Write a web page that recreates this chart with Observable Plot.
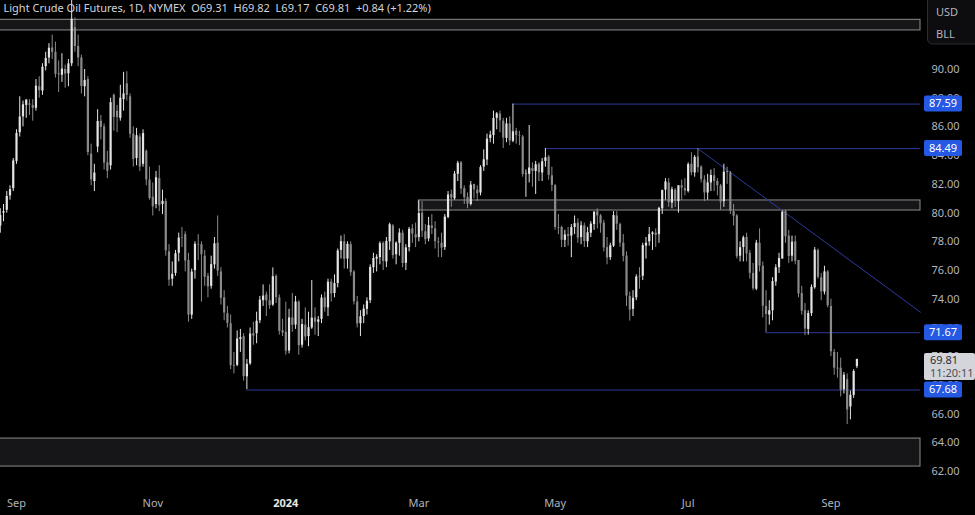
<!DOCTYPE html>
<html><head><meta charset="utf-8">
<script src="https://cdn.jsdelivr.net/npm/d3@7"></script>
<script src="https://cdn.jsdelivr.net/npm/@observablehq/plot@0.6"></script>
<style>
html,body{margin:0;padding:0;background:#000;}
#chart{width:975px;height:515px;overflow:hidden;position:relative;}
</style></head><body><div id="chart"></div>
<script>
// ---------- DATA ----------
const dates = [
"2023-08-24","2023-08-25","2023-08-28","2023-08-29","2023-08-30","2023-08-31",
"2023-09-01","2023-09-05","2023-09-06","2023-09-07","2023-09-08","2023-09-11","2023-09-12","2023-09-13","2023-09-14","2023-09-15","2023-09-18","2023-09-19","2023-09-20","2023-09-21","2023-09-22","2023-09-25","2023-09-26","2023-09-27","2023-09-28","2023-09-29",
"2023-10-02","2023-10-03","2023-10-04","2023-10-05","2023-10-06","2023-10-09","2023-10-10","2023-10-11","2023-10-12","2023-10-13","2023-10-16","2023-10-17","2023-10-18","2023-10-19","2023-10-20","2023-10-23","2023-10-24","2023-10-25","2023-10-26","2023-10-27","2023-10-30","2023-10-31",
"2023-11-01","2023-11-02","2023-11-03","2023-11-06","2023-11-07","2023-11-08","2023-11-09","2023-11-10","2023-11-13","2023-11-14","2023-11-15","2023-11-16","2023-11-17","2023-11-20","2023-11-21","2023-11-22","2023-11-24","2023-11-27","2023-11-28","2023-11-29","2023-11-30",
"2023-12-01","2023-12-04","2023-12-05","2023-12-06","2023-12-07","2023-12-08","2023-12-11","2023-12-12","2023-12-13","2023-12-14","2023-12-15","2023-12-18","2023-12-19","2023-12-20","2023-12-21","2023-12-22","2023-12-26","2023-12-27","2023-12-28","2023-12-29",
"2024-01-02","2024-01-03","2024-01-04","2024-01-05","2024-01-08","2024-01-09","2024-01-10","2024-01-11","2024-01-12","2024-01-16","2024-01-17","2024-01-18","2024-01-19","2024-01-22","2024-01-23","2024-01-24","2024-01-25","2024-01-26","2024-01-29","2024-01-30","2024-01-31",
"2024-02-01","2024-02-02","2024-02-05","2024-02-06","2024-02-07","2024-02-08","2024-02-09","2024-02-12","2024-02-13","2024-02-14","2024-02-15","2024-02-16","2024-02-20","2024-02-21","2024-02-22","2024-02-23","2024-02-26","2024-02-27","2024-02-28","2024-02-29",
"2024-03-01","2024-03-04","2024-03-05","2024-03-06","2024-03-07","2024-03-08","2024-03-11","2024-03-12","2024-03-13","2024-03-14","2024-03-15","2024-03-18","2024-03-19","2024-03-20","2024-03-21","2024-03-22","2024-03-25","2024-03-26","2024-03-27","2024-03-28",
"2024-04-01","2024-04-02","2024-04-03","2024-04-04","2024-04-05","2024-04-08","2024-04-09","2024-04-10","2024-04-11","2024-04-12","2024-04-15","2024-04-16","2024-04-17","2024-04-18","2024-04-19","2024-04-22","2024-04-23","2024-04-24","2024-04-25","2024-04-26","2024-04-29","2024-04-30",
"2024-05-01","2024-05-02","2024-05-03","2024-05-06","2024-05-07","2024-05-08","2024-05-09","2024-05-10","2024-05-13","2024-05-14","2024-05-15","2024-05-16","2024-05-17","2024-05-20","2024-05-21","2024-05-22","2024-05-23","2024-05-24","2024-05-28","2024-05-29","2024-05-30","2024-05-31",
"2024-06-03","2024-06-04","2024-06-05","2024-06-06","2024-06-07","2024-06-10","2024-06-11","2024-06-12","2024-06-13","2024-06-14","2024-06-17","2024-06-18","2024-06-20","2024-06-21","2024-06-24","2024-06-25","2024-06-26","2024-06-27","2024-06-28",
"2024-07-01","2024-07-02","2024-07-03","2024-07-05","2024-07-08","2024-07-09","2024-07-10","2024-07-11","2024-07-12","2024-07-15","2024-07-16","2024-07-17","2024-07-18","2024-07-19","2024-07-22","2024-07-23","2024-07-24","2024-07-25","2024-07-26","2024-07-29","2024-07-30","2024-07-31",
"2024-08-01","2024-08-02","2024-08-05","2024-08-06","2024-08-07","2024-08-08","2024-08-09","2024-08-12","2024-08-13","2024-08-14","2024-08-15","2024-08-16","2024-08-19","2024-08-20","2024-08-21","2024-08-22","2024-08-23","2024-08-26","2024-08-27","2024-08-28","2024-08-29","2024-08-30",
"2024-09-03","2024-09-04","2024-09-05","2024-09-06","2024-09-09","2024-09-10","2024-09-11","2024-09-12","2024-09-13"
];
const opens = [
78.8,79.1,80.0,80.2,81.2,81.7,
83.6,85.6,86.7,87.5,87.6,87.5,87.3,88.8,88.5,90.2,90.8,91.5,91.2,89.7,89.6,90.0,89.7,90.4,92.9,91.6,
90.8,88.8,89.3,84.1,82.2,84.6,86.4,86.0,83.5,83.3,88.2,87.1,86.6,87.9,89.0,88.1,85.5,83.8,85.3,83.4,84.3,82.3,
81.1,80.6,82.4,80.6,80.8,77.3,75.4,75.8,77.2,78.3,78.5,76.7,72.9,76.0,77.8,77.8,77.0,75.6,74.9,76.4,77.9,
75.9,74.1,73.0,72.3,69.4,69.4,71.2,71.4,68.6,69.5,71.6,71.6,72.5,73.9,74.3,73.9,73.6,75.6,74.1,71.8,
71.7,70.4,72.7,72.2,73.8,70.8,72.2,71.4,72.0,72.7,72.4,72.6,74.1,73.4,75.2,74.4,75.1,77.4,78.0,76.8,77.8,
75.9,73.8,72.3,72.8,73.3,73.9,76.2,76.8,76.9,77.9,76.6,78.0,79.1,77.1,77.9,78.6,76.5,77.6,78.9,78.5,
78.3,80.0,78.7,78.2,79.1,78.9,78.0,77.9,77.6,79.7,81.3,81.0,82.7,83.5,81.7,81.1,80.6,82.0,81.6,81.4,
83.2,83.7,85.2,85.4,86.6,86.9,86.4,85.2,86.2,85.0,85.7,85.4,85.3,82.7,82.7,83.1,82.9,83.4,82.8,83.6,83.9,82.6,
81.9,79.0,79.0,78.1,78.5,78.4,79.0,79.3,78.3,79.1,78.0,78.6,79.2,80.1,79.8,79.3,77.6,76.9,77.7,79.8,79.2,77.9,
77.0,74.2,73.3,74.1,75.6,75.6,77.7,78.0,78.5,78.6,78.5,80.3,81.6,82.1,80.7,81.6,80.8,81.9,81.7,
81.5,83.4,82.8,83.9,83.2,82.3,81.4,82.1,82.6,82.2,81.9,80.8,82.9,82.8,80.1,79.8,77.0,77.6,78.3,77.2,75.8,74.7,
77.9,76.3,73.5,72.9,73.2,75.2,76.2,76.8,80.1,78.4,77.0,78.0,76.7,74.4,73.2,71.9,73.0,74.8,77.4,75.5,74.5,75.9,
73.5,70.3,69.2,69.2,67.7,68.4,66.5,67.3,69.31
];
const highs = [
79.9,80.3,80.6,81.5,81.9,83.8,
85.8,88.1,87.8,87.9,87.9,87.9,89.3,89.5,90.4,91.2,91.8,92.4,91.9,90.6,91.1,90.3,90.7,94.9,93.6,92.4,
91.0,90.0,89.5,84.8,83.4,87.2,86.8,86.2,84.3,88.0,88.3,87.5,88.9,89.8,89.85,88.3,86.0,85.9,85.5,85.8,84.4,83.2,
82.1,82.9,83.3,81.6,81.0,77.8,76.6,77.4,78.6,79.0,78.7,77.2,76.1,78.0,78.5,78.0,77.4,75.8,77.0,78.3,79.8,
76.2,74.6,73.5,72.9,70.3,71.8,71.9,71.6,69.8,72.0,72.4,73.1,74.2,75.0,74.5,75.0,76.18,75.7,74.3,72.6,
73.8,73.3,74.4,74.2,73.9,72.6,73.4,73.1,75.3,73.4,72.8,74.3,74.5,75.4,75.4,75.7,77.5,78.4,78.5,78.0,78.0,
76.0,74.2,73.2,73.6,74.1,76.4,77.2,77.1,78.0,78.0,78.3,79.3,79.2,78.0,78.9,78.8,77.8,79.0,79.2,79.3,
80.85,80.8,79.2,79.7,79.9,79.4,78.3,78.6,79.9,81.5,81.6,82.9,83.6,83.6,81.9,81.4,82.2,82.0,81.9,83.3,
84.4,85.5,85.7,87.1,87.0,87.1,86.6,86.6,86.7,87.59,85.9,85.7,85.4,83.0,86.1,83.5,83.6,83.5,83.8,84.49,84.0,83.2,
82.0,79.9,79.1,78.8,79.0,79.2,79.8,79.6,79.4,79.3,79.0,79.4,80.1,80.3,79.9,79.5,78.3,77.9,80.1,80.1,79.3,78.5,
77.3,74.5,74.6,75.7,76.2,77.9,78.3,79.0,78.7,78.9,80.4,81.6,82.4,82.4,81.8,81.7,81.9,82.3,82.4,
83.5,84.2,84.0,84.49,83.3,82.6,82.7,83.0,83.1,82.4,82.0,83.4,83.2,82.9,80.6,79.9,78.0,78.4,78.6,77.4,76.5,78.1,
78.9,76.6,74.6,73.9,75.5,76.4,77.2,80.15,80.2,78.8,78.4,78.4,76.7,74.9,73.7,73.2,75.0,77.6,77.5,75.8,76.3,76.0,
74.0,70.5,70.3,69.9,68.9,68.8,67.6,69.1,69.82
];
const lows = [
78.2,78.6,79.4,80.0,80.9,81.5,
83.4,85.3,86.0,86.6,86.8,86.4,87.1,88.0,88.2,89.9,90.4,90.7,89.4,88.4,89.1,88.7,88.8,90.2,91.2,90.2,
88.3,88.1,84.0,81.9,81.5,84.2,85.1,83.0,82.4,83.0,85.7,85.6,86.4,87.1,87.8,85.2,83.2,83.3,82.9,83.2,81.9,80.9,
79.8,80.3,80.1,79.9,77.0,74.9,74.9,75.6,76.6,77.6,75.9,72.4,72.6,75.4,76.7,73.8,74.9,74.1,74.7,76.1,75.6,
73.6,72.5,72.0,69.1,68.8,69.3,70.3,68.3,67.71,69.4,70.8,70.9,72.3,73.5,72.8,73.3,73.5,73.7,71.5,71.4,
70.1,70.2,71.7,71.9,70.1,70.6,71.1,70.7,71.9,71.5,71.4,72.3,73.1,72.8,73.8,74.1,74.8,76.8,76.1,76.1,75.6,
73.6,72.0,71.4,72.3,72.9,73.7,75.8,75.9,76.4,76.0,76.2,77.4,76.8,76.4,77.0,76.2,76.0,77.3,77.9,77.6,
78.0,78.3,77.8,78.0,78.5,77.5,76.9,76.9,77.4,79.6,80.4,80.9,82.2,81.3,80.6,80.3,80.5,81.0,80.8,81.2,
82.9,83.3,84.9,84.8,85.8,85.6,84.5,84.9,84.7,84.9,84.8,84.7,82.5,81.1,82.1,81.8,81.3,82.2,82.2,83.2,82.3,81.5,
78.8,78.5,77.6,77.6,77.7,76.9,78.5,77.9,77.8,77.6,77.6,78.3,78.8,78.9,78.6,77.3,76.4,76.7,77.6,78.8,77.6,76.6,
73.5,72.48,72.8,73.9,74.7,75.3,76.8,77.7,77.4,77.6,77.9,79.9,80.9,80.4,80.3,80.4,80.0,80.9,81.2,
81.4,82.6,82.5,82.8,82.1,80.8,80.9,81.5,81.5,81.2,80.2,80.4,82.0,79.9,79.1,76.8,76.6,76.6,76.6,75.4,74.6,74.6,
75.9,72.7,71.67,72.2,72.5,74.9,75.8,76.8,77.9,76.5,76.6,76.4,74.1,72.9,71.46,71.5,72.8,74.7,75.4,73.9,74.3,73.4,
70.0,68.7,68.5,67.2,67.4,65.27,65.6,67.1,69.17
];
const closes = [
79.05,79.83,80.10,81.16,81.63,83.63,
85.55,86.69,87.54,87.87,87.51,87.29,88.84,88.52,90.16,90.77,91.48,91.20,89.66,89.63,90.03,89.68,90.39,93.5,91.6,90.8,
88.82,89.23,84.22,82.31,82.79,86.38,85.97,83.49,82.91,87.69,86.66,86.66,88.0,88.3,88.2,85.49,83.74,85.39,83.21,85.54,82.31,81.02,
80.44,82.46,80.51,80.82,77.37,75.33,75.74,77.17,78.26,78.26,76.66,72.90,75.89,77.83,77.77,77.10,75.54,74.86,76.41,77.86,75.96,
74.07,73.04,72.32,69.38,69.34,71.23,71.32,68.61,69.47,71.58,71.43,72.47,73.94,74.22,73.89,73.56,75.57,74.11,71.77,71.65,
70.38,72.70,72.19,73.81,70.77,72.24,71.37,72.02,72.68,72.40,72.56,74.08,73.41,75.19,74.37,75.09,77.36,78.01,76.78,77.82,75.85,
73.82,72.28,72.78,73.31,73.86,76.22,76.84,76.92,77.87,76.64,78.03,79.19,77.04,77.91,78.61,76.49,77.58,78.87,78.54,78.26,
79.97,78.74,78.15,79.13,78.93,78.01,77.93,77.56,79.72,81.26,81.04,82.72,83.47,81.68,81.07,80.63,81.95,81.62,81.35,83.17,
83.71,85.15,85.43,86.59,86.91,86.43,85.23,86.21,85.02,85.66,85.41,85.36,82.69,82.73,83.14,82.90,83.36,82.81,83.57,83.85,82.63,81.93,
79.00,78.95,78.11,78.48,78.38,78.99,79.26,78.26,79.12,78.02,78.63,79.23,80.06,79.80,79.26,77.57,76.87,77.72,79.83,79.23,77.91,76.99,
74.22,73.25,74.07,75.55,75.53,77.74,77.90,78.50,78.62,78.45,80.33,81.57,82.17,80.73,81.63,80.83,81.90,81.74,81.54,
83.38,82.81,83.88,83.16,82.33,81.41,82.10,82.62,82.21,81.91,80.76,82.85,82.82,80.13,79.78,76.96,77.59,78.28,77.16,75.81,74.73,77.91,
76.31,73.52,72.94,73.20,75.23,76.19,76.84,80.06,78.35,76.98,77.98,76.65,74.37,73.17,71.93,73.01,74.83,77.42,75.53,74.52,75.91,73.55,
70.34,69.20,69.15,67.67,68.71,66.3,67.31,68.97,69.81
];
const tickDates  = ["2023-09-01","2023-11-01","2024-01-02","2024-03-01","2024-05-01","2024-07-01","2024-09-03"];
const tickLabels = ["Sep","Nov","2024","Mar","May","Jul","Sep"];
const priceTicks = [62,64,66,68,70,72,74,76,78,80,82,84,86,88,90];
const levelPrices = [87.59, 84.49, 71.67, 67.68];
const levelStarts = ["2024-04-12","2024-04-26","2024-08-05","2023-12-13"];
const zoneLow   = [92.72, 80.18, 62.35];
const zoneHigh  = [93.46, 80.88, 64.30];
const zoneStart = [null, "2024-03-01", null];
const trendStart = "2024-07-05";
const trendPrices = [84.49, 73.1];   // at the start bar and at the right edge of the plot
const lastPrice = 69.81, countdown = "11:20:11";
const title = "Light Crude Oil Futures, 1D, NYMEX\u00a0\u00a0O69.31\u00a0\u00a0H69.82\u00a0\u00a0L69.17\u00a0\u00a0C69.81\u00a0\u00a0+0.84 (+1.22%)";

// ---------- BUILD ----------
[opens,highs,lows,closes].forEach((a,k)=>{ if(a.length!==dates.length) throw new Error("length mismatch "+k+": "+a.length+" vs "+dates.length); });
const base = dates.indexOf("2023-09-01");
const idx = d => dates.indexOf(d) - base;
const bars = dates.map((d,k)=>({i:k-base, o:opens[k], h:highs[k], l:lows[k], c:closes[k]}));
const UP = "#e4e4e4", DOWN = "#8a8a8a";
const col = d => d.c >= d.o ? UP : DOWN;

const xDomain = [-4.93, 278.6];
const yDomain = [60.682, 94.805];
const zones = zoneLow.map((lo,k)=>({lo, hi:zoneHigh[k], x1: zoneStart[k] ? idx(zoneStart[k]) : xDomain[0] - 2, x2: xDomain[1]}));
const levels = levelPrices.map((p,k)=>({p, x1: idx(levelStarts[k]), x2: xDomain[1]}));
const trend = [{i: idx(trendStart), p: trendPrices[0]}, {i: xDomain[1], p: trendPrices[1]}];
const tickIdx = tickDates.map(idx);
const tickMap = new Map(tickIdx.map((t,k)=>[t, tickLabels[k]]));

const LINE = "#2c3a9c";
const chart = Plot.plot({
  width: 975, height: 515,
  marginLeft: 0, marginRight: 55, marginTop: 0, marginBottom: 25,
  style: {background: "#000", color: "#b2b5be", fontFamily: "'Noto Sans', sans-serif", fontSize: "11px"},
  x: {domain: xDomain, axis: "bottom", ticks: tickIdx, tickFormat: t => tickMap.get(t), tickSize: 0, tickPadding: 9, label: null},
  y: {domain: yDomain, axis: "right", ticks: priceTicks, tickFormat: d => d.toFixed(2), tickSize: 0, tickPadding: 11, label: null},
  marks: [
    Plot.rect(zones, {x1: "x1", x2: "x2", y1: "lo", y2: "hi", fill: "#161618", stroke: "#8c8c8c", strokeWidth: 1}),
    Plot.ruleY(levels, {y: "p", x1: "x1", x2: "x2", stroke: LINE, strokeWidth: 1}),
    Plot.line(trend, {x: "i", y: "p", stroke: LINE, strokeWidth: 1}),
    Plot.ruleX(bars, {x: "i", y1: "l", y2: "h", stroke: col, strokeWidth: 1}),
    Plot.ruleX(bars, {x: "i", y1: "o", y2: "c", stroke: col, strokeWidth: 2.2}),
    Plot.text([title], {frameAnchor: "top-left", dx: 3, dy: 4, text: d => d, fill: "#d1d4dc", fontSize: 11, textAnchor: "start", lineAnchor: "top"})
  ]
});
document.getElementById("chart").appendChild(chart);

// ---------- price-scale badges ----------
const ys = chart.scale("y");
const svg = d3.select(chart);
svg.selectAll("text").filter(function(){ return this.textContent === "2024"; })
   .attr("font-weight", "bold").attr("fill", "#e6e6e6");
const g = svg.append("g").attr("font-family", "'Noto Sans', sans-serif").attr("font-size", 11).attr("text-anchor", "start");
levelPrices.forEach(p => {
  const y = ys.apply(p);
  g.append("rect").attr("x", 924).attr("y", y - 8).attr("width", 38).attr("height", 16).attr("rx", 2).attr("fill", "#2558e3");
  g.append("text").attr("x", 943).attr("y", y).attr("dy", "0.35em").attr("text-anchor", "middle").attr("fill", "#ffffff").text(p.toFixed(2));
});
{
  const y = ys.apply(lastPrice);
  g.append("rect").attr("x", 924).attr("y", y - 6).attr("width", 51).attr("height", 27).attr("rx", 2).attr("fill", "#d3d5da");
  g.append("text").attr("x", 930).attr("y", y + 1).attr("dy", "0.35em").attr("text-anchor", "start").attr("fill", "#2a2e39").text(lastPrice.toFixed(2));
  g.append("text").attr("x", 930).attr("y", y + 14).attr("dy", "0.35em").attr("text-anchor", "start").attr("fill", "#4a4e59").text(countdown);
}
g.append("rect").attr("x", 927.5).attr("y", -4).attr("width", 52).attr("height", 48).attr("rx", 5).attr("fill", "#0d0d10").attr("stroke", "#2c2d33");
g.append("text").attr("x", 936).attr("y", 12).attr("dy", "0.35em").attr("text-anchor", "start").attr("fill", "#b2b5be").text("USD");
g.append("text").attr("x", 936).attr("y", 34).attr("dy", "0.35em").attr("text-anchor", "start").attr("fill", "#b2b5be").text("BLL");
</script>
</body></html>
